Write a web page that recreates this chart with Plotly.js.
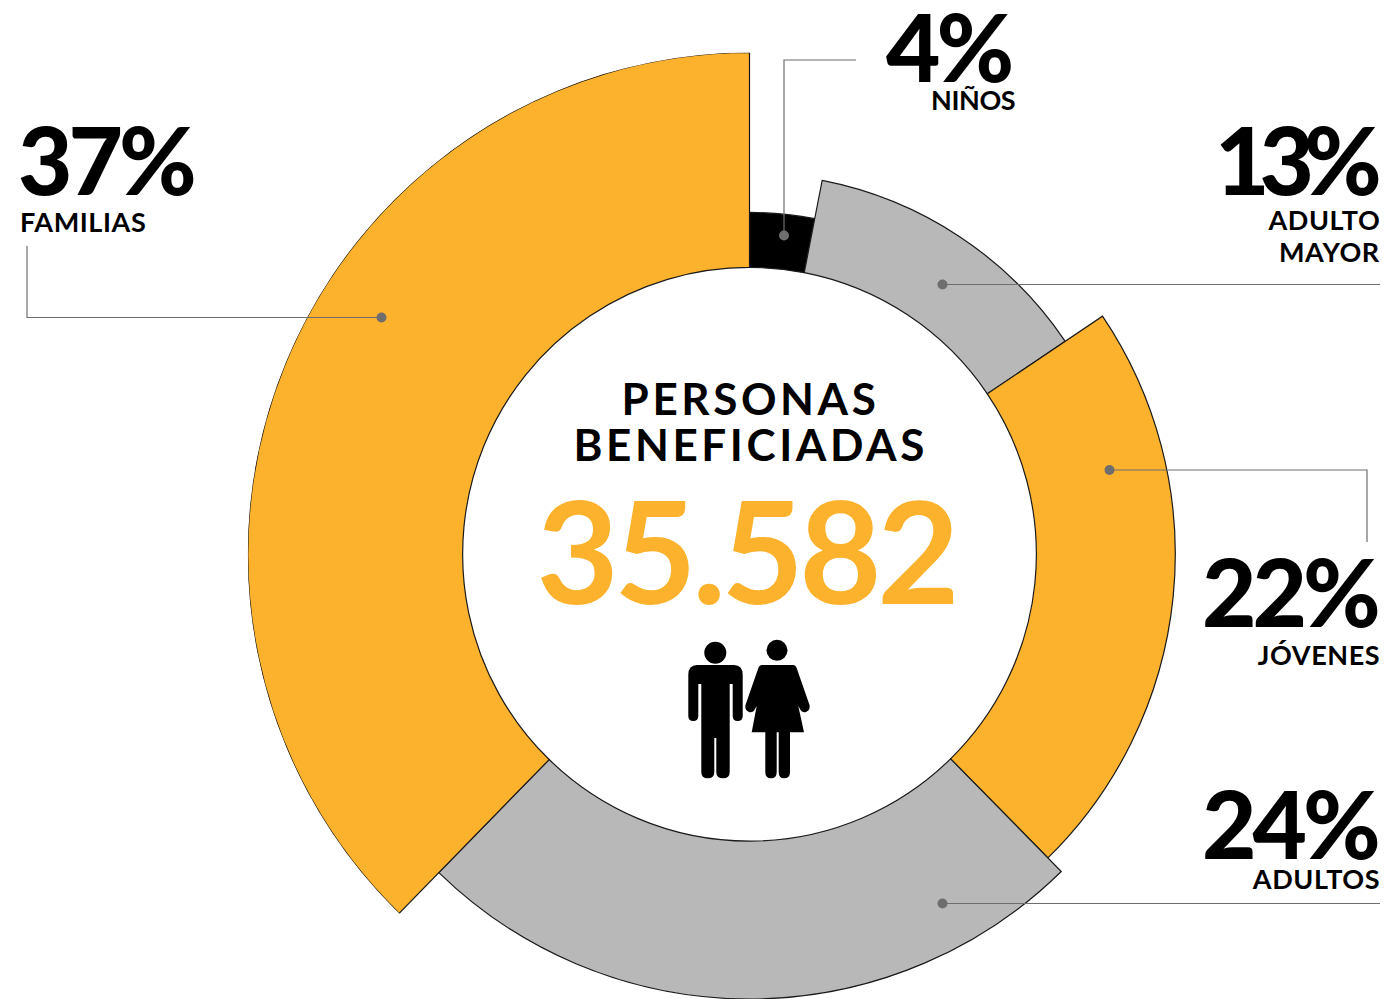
<!DOCTYPE html>
<html>
<head>
<meta charset="utf-8">
<script src="https://cdn.plot.ly/plotly-3.0.1.min.js"></script>
<style>
html,body{margin:0;padding:0;background:#fff;overflow:hidden;width:1385px;height:999px}
#chart{width:1385px;height:1056px}
.annotation[data-index="0"] text,.annotation[data-index="1"] text{letter-spacing:3.6px}
.annotation[data-index="2"] text{letter-spacing:-4.5px}
.annotation[data-index="3"] text,.annotation[data-index="7"] text,.annotation[data-index="9"] text,.annotation[data-index="11"] text{letter-spacing:-4px}
.annotation[data-index="5"] text{letter-spacing:-10px}
.annotation[data-index="4"] text{letter-spacing:-.4px}
.annotation[data-index="6"] text,.annotation[data-index="8"] text,.annotation[data-index="10"] text,.annotation[data-index="12"] text,.annotation[data-index="13"] text{letter-spacing:.6px}
</style>
</head>
<body>
<div id="chart"></div>
<script>
// Data
var categories = ['Niños','Adulto mayor','Jóvenes','Adultos','Familias'];
var percentLabels = ['4%','13%','22%','24%','37%'];
var captionLabels = ['NIÑOS','ADULTO','JÓVENES','ADULTOS','FAMILIAS','MAYOR'];
var startAngles = [0,11,56,135.5,224.3];
var endAngles = [11,56,135.5,224.3,360];
var innerRadius = [287,287,287,287,287];
var outerRadius = [342,381,426,445,502];
var sliceColors = ['#000000','#b8b8b8','#fdb22d','#b8b8b8','#fdb22d'];
var centerTitle = 'PERSONAS';
var centerSubtitle = 'BENEFICIADAS';
var totalLabel = '35.582';

var W = 1385, H = 1056, cx = 749.5, cy = 554.5, R = 502;
var FONT = 'Lato, sans-serif';

var thetas = startAngles.map(function(s,i){return (s+endAngles[i])/2;});
var widths = startAngles.map(function(s,i){return endAngles[i]-s;});
var lengths = outerRadius.map(function(o,i){return o-innerRadius[i];});

var bars = {
  type:'barpolar', subplot:'polar',
  theta:thetas, width:widths, r:lengths, base:innerRadius,
  text:categories, hoverinfo:'text',
  marker:{color:sliceColors, line:{color:'#1a1a1a', width:1.2}},
  showlegend:false
};
var anchor = {type:'scatter', x:[0,W], y:[0,H], mode:'none', xaxis:'x', yaxis:'y', hoverinfo:'skip', showlegend:false};

function note(text,x,y,size,anchorX,color,weight){
  return {xref:'x',yref:'y',x:x,y:y,text:text,showarrow:false,xanchor:anchorX,yanchor:'middle',align:anchorX,
    font:{family:FONT,size:size,color:color||'#000',weight:weight||700}};
}
var annotations = [
  note(centerTitle,750,398,44,'center','#000',700),
  note(centerSubtitle,750,444,44,'center','#000',700),
  note(totalLabel,746,549,142,'center','#fdb22d',700),
  note(percentLabels[0],884,45,94,'left','#000',900),
  note(captionLabels[0],1017,99,27,'right','#000',700),
  note(percentLabels[1],1374,158,94,'right','#000',900),
  note(captionLabels[1],1382,219,27,'right','#000',700),
  note(percentLabels[2],1379,590,94,'right','#000',900),
  note(captionLabels[2],1382,654,27,'right','#000',700),
  note(percentLabels[3],1379,822,94,'right','#000',900),
  note(captionLabels[3],1382,878,27,'right','#000',700),
  note(percentLabels[4],16,158,94,'left','#000',900),
  note(captionLabels[4],18,221,27,'left','#000',700),
  note(captionLabels[5],1382,251,27,'right','#000',700)
];

function leader(path){return {type:'path',xref:'x',yref:'y',layer:'above',path:path,line:{color:'#6e6e6e',width:1.2}};}
function dot(x,y){return {type:'circle',xref:'x',yref:'y',layer:'above',x0:x-5,x1:x+5,y0:y-5,y1:y+5,fillcolor:'#6e6e6e',line:{width:0}};}
function solid(path){return {type:'path',xref:'x',yref:'y',layer:'above',path:path,fillcolor:'#000',line:{width:0}};}
function head(x,y,r){return {type:'circle',xref:'x',yref:'y',layer:'above',x0:x-r,x1:x+r,y0:y-r,y1:y+r,fillcolor:'#000',line:{width:0}};}

var shapes = [
  leader('M 784 235.5 L 784 60 L 856 60'), dot(784,235.5),
  leader('M 942.5 284.5 L 1380 284.5'), dot(942.5,284.5),
  leader('M 1109.5 470 L 1367 470 L 1367 542'), dot(1109.5,470),
  leader('M 942.5 903.5 L 1380 903.5'), dot(942.5,903.5),
  leader('M 381.5 317.5 L 27 317.5 L 27 246'), dot(381.5,317.5),
  head(715.3,652.7,11),
  solid('M 697 665 L 734 665 Q 742.7 665 742.7 675 L 742.7 716 Q 742.7 721 737.7 721 Q 732.7 721 732.7 716 L 732.7 684 L 729.7 684 L 729.7 772 Q 729.7 778.3 723 778.3 Q 716.3 778.3 716.3 772 L 716.3 738 L 714.3 738 L 714.3 772 Q 714.3 778.3 707.8 778.3 Q 701.3 778.3 701.3 772 L 701.3 684 L 698.3 684 L 698.3 716 Q 698.3 721 693.3 721 Q 688.3 721 688.3 716 L 688.3 675 Q 688.3 665 697 665 Z'),
  head(777,650.3,10.5),
  solid('M 762 665 L 793 665 Q 796 665 797 669 L 809.5 705 Q 810.5 710 806 712 Q 802 713 800 709 L 798.3 706 L 804 732.3 L 790 732.3 L 790 772 Q 790 778.3 784 778.3 Q 778.7 778.3 778.7 772 L 778.7 732.3 L 776.7 732.3 L 776.7 772 Q 776.7 778.3 771 778.3 Q 765.3 778.3 765.3 772 L 765.3 732.3 L 751.7 732.3 L 756.7 706 L 755 709 Q 753 713 749 712 Q 744.5 710 745.5 705 L 758 669 Q 759 665 762 665 Z')
];

var layout = {
  width:W, height:H,
  margin:{l:0,r:0,t:0,b:0,pad:0},
  paper_bgcolor:'#fff', plot_bgcolor:'rgba(0,0,0,0)',
  showlegend:false,
  xaxis:{range:[0,W],domain:[0,1],visible:false,fixedrange:true},
  yaxis:{range:[H,0],domain:[0,1],visible:false,fixedrange:true},
  polar:{
    domain:{x:[(cx-R)/W,(cx+R)/W],y:[(H-cy-R)/H,(H-cy+R)/H]},
    bgcolor:'rgba(0,0,0,0)',
    barmode:'overlay',
    radialaxis:{range:[0,R],visible:false,showgrid:false,showline:false,showticklabels:false,ticks:''},
    angularaxis:{direction:'clockwise',rotation:90,visible:false,showgrid:false,showline:false,showticklabels:false,ticks:''}
  },
  annotations:annotations,
  shapes:shapes
};
Plotly.newPlot('chart',[anchor,bars],layout,{displayModeBar:false,staticPlot:true});
</script>
</body>
</html>
